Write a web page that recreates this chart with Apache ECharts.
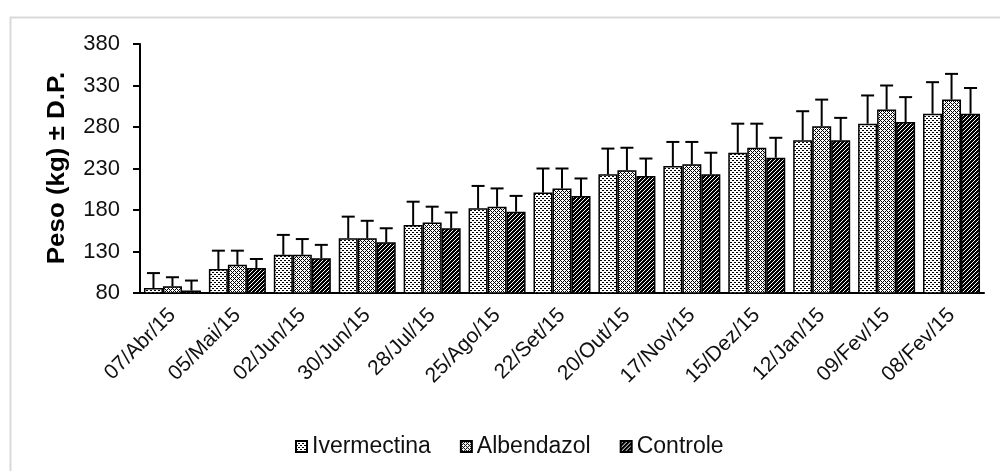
<!DOCTYPE html>
<html><head><meta charset="utf-8">
<script src="https://cdn.jsdelivr.net/npm/echarts@6/dist/echarts.min.js"></script>
<style>html,body{margin:0;padding:0;background:#fff}#c{width:1000px;height:471px}</style>
</head><body><div id="c"></div>
<script>
const categories = ['07/Abr/15','05/Mai/15','02/Jun/15','30/Jun/15','28/Jul/15','25/Ago/15','22/Set/15','20/Out/15','17/Nov/15','15/Dez/15','12/Jan/15','09/Fev/15','08/Fev/15'];
const ivermectina   = [86,109,126,146,162,182,201,223,233,249,264,284,296];
const ivermectinaSD = [18,22,24,26,28,27,29,31,29,35,35,34,38];
const albendazol    = [88,114,126,146,165,184,206,228,235,255,281,301,313];
const albendazolSD  = [11,17,19,21,19,22,24,27,27,29,32,29,31];
const controle      = [83,110,122,141,158,178,197,221,223,243,264,286,296];
const controleSD    = [12,11,16,17,19,19,21,21,26,24,27,30,31];
const yTicks = [80,130,180,230,280,330,380];
const seriesNames = ['Ivermectina','Albendazol','Controle'];

function makePattern(kind){
  const c = document.createElement('canvas'); c.width = 4; c.height = 4;
  const g = c.getContext('2d');
  if (kind === 0) {
    g.fillStyle = '#fff'; g.fillRect(0,0,4,4);
    g.fillStyle = '#000'; g.fillRect(0,0,2,1); g.fillRect(2,2,2,1);
  } else if (kind === 1) {
    g.fillStyle = '#fff'; g.fillRect(0,0,4,4);
    g.fillStyle = '#000';
    for (let x=0;x<4;x++) for (let y=0;y<4;y++) if ((x+y)%4===0 || ((x-y)+4)%4===0) g.fillRect(x,y,1,1);
  } else {
    g.fillStyle = '#000'; g.fillRect(0,0,4,4);
    g.fillStyle = '#fff'; g.fillRect(1,1,1,1); g.fillRect(3,3,1,1); g.fillRect(2,0,1,1); g.fillRect(0,2,1,1);
  }
  return {image: c, repeat: 'repeat'};
}

const means = [ivermectina, albendazol, controle];
const sds = [ivermectinaSD, albendazolSD, controleSD];
const BW = 19;

const series = [];
seriesNames.forEach((n,i)=>{
  series.push({
    name: n, type: 'bar', data: means[i], barWidth: BW, barGap: '0%',
    itemStyle: {color: makePattern(i), borderColor: '#000', borderWidth: 1.5},
    z: 2
  });
});
seriesNames.forEach((n,i)=>{
  series.push({
    type: 'custom', name: n + ' DP', z: 3,
    encode: {x: 0, y: 1},
    data: means[i].map((v,k)=>[k, v, sds[i][k]]),
    renderItem: function(params, api){
      const idx = api.value(0), m = api.value(1), s = api.value(2);
      const off = (i - 1) * BW;
      const p0 = api.coord([idx, m]);
      const p1 = api.coord([idx, m + s]);
      const x = p0[0] + off;
      return {type:'group', children:[
        {type:'line', shape:{x1:x,y1:p0[1],x2:x,y2:p1[1]}, style:{stroke:'#000', lineWidth:2}},
        {type:'line', shape:{x1:x-6.5,y1:p1[1],x2:x+6.5,y2:p1[1]}, style:{stroke:'#000', lineWidth:2}}
      ]};
    }
  });
});

const chart = echarts.init(document.getElementById('c'), null, {renderer:'canvas'});
chart.setOption({
  animation: false,
  backgroundColor: '#fff',
  textStyle: {fontFamily: 'Arial, "Liberation Sans", sans-serif'},
  graphic: [
    {type:'rect', left: 8, top: 15, shape:{width: 1000, height: 470}, style:{fill:'none', stroke:'#d9d9d9', lineWidth:2}, silent:true},
    {type:'text', x: 57, y: 168, rotation: Math.PI/2, scaleX: 1.08,
      style:{text:'Peso (kg) ± D.P.', font:'bold 24px Arial, "Liberation Sans", sans-serif', fill:'#000', align:'center', verticalAlign:'middle'}}
  ],
  grid: {left: 140, right: 16, top: 44, bottom: 178},
  legend: {
    data: seriesNames, top: 430, left: 290, itemWidth: 11, itemHeight: 11, itemGap: 29,
    textStyle: {fontSize: 23, color: '#111', fontFamily: 'Arial, "Liberation Sans", sans-serif'},
    icon: 'rect'
  },
  xAxis: {
    type: 'category', data: categories,
    axisLine: {lineStyle: {color: '#000', width: 2}},
    axisTick: {length: 9, lineStyle: {color: '#000', width: 2}},
    axisLabel: {rotate: 45, fontSize: 21, color: '#111', margin: 19, interval: 0}
  },
  yAxis: {
    type: 'value', min: 80, max: 380,
    splitLine: {show: false},
    axisLine: {show: true, lineStyle: {color: '#000', width: 2}},
    axisTick: {show: true, length: 7, customValues: yTicks, lineStyle: {color: '#000', width: 2}},
    axisLabel: {fontSize: 22, color: '#111', margin: 20, customValues: yTicks}
  },
  series: series
});
</script></body></html>
